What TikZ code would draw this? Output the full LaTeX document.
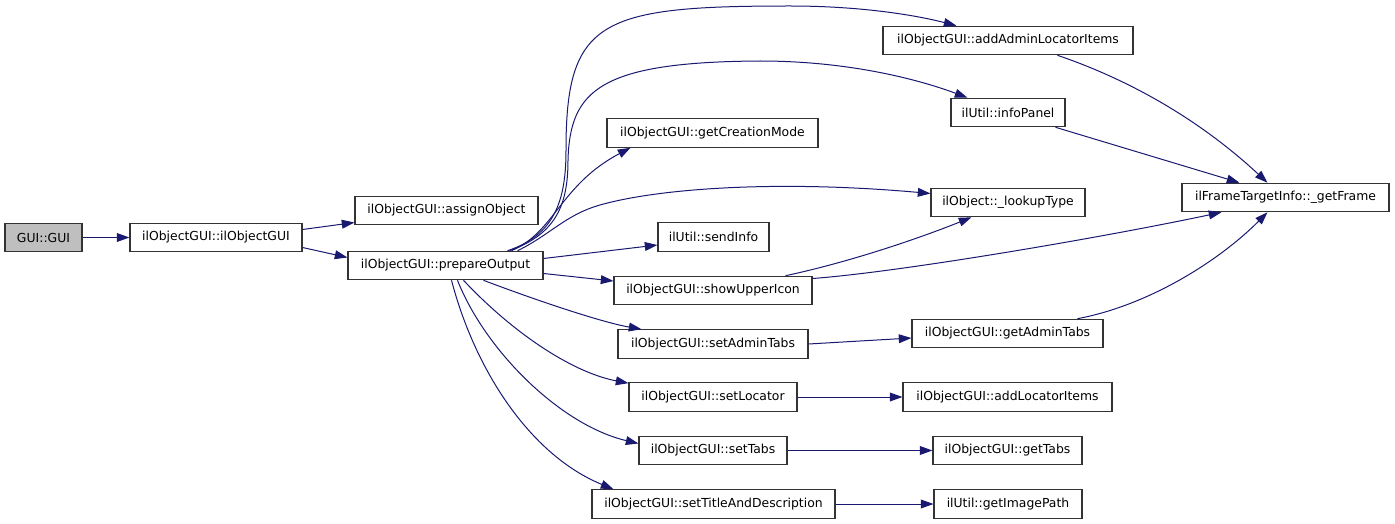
\documentclass[tikz,border=0pt]{standalone}
\usepackage{fontspec}
\setmainfont{DejaVu Sans}
\usetikzlibrary{arrows.meta,calc}
\definecolor{edgec}{HTML}{191970}
\definecolor{rootfill}{HTML}{BFBFBF}
\begin{document}
\begin{tikzpicture}[x=0.75pt,y=-0.75pt,
 box/.style={draw=black!80, line width=0.8pt, inner sep=0pt, minimum height=21.4pt,
   font=\fontsize{9.3pt}{11pt}\selectfont, text=black},
 edge/.style={draw=edgec, line width=0.75pt, -{Triangle[length=9.5pt,width=6.6pt]}}]
\useasboundingbox (0,0) rectangle (1395,524);
% nodes
\node[box, fill=rootfill, minimum width=57.75pt] (gui) at (43.5,237.5) {GUI::GUI};
\node[box, minimum width=129pt] (ilo) at (216,237.5) {ilObjectGUI::ilObjectGUI};
\node[box, minimum width=137.25pt] (assign) at (446.5,210.5) {ilObjectGUI::assignObject};
\node[box, minimum width=146.25pt] (po) at (445.5,265.5) {ilObjectGUI::prepareOutput};
\node[box, minimum width=187.5pt] (aali) at (1008,40.5) {ilObjectGUI::addAdminLocatorItems};
\node[box, minimum width=85.5pt] (info) at (1008,112.5) {ilUtil::infoPanel};
\node[box, minimum width=158.25pt] (gcm) at (712.5,133) {ilObjectGUI::getCreationMode};
\node[box, minimum width=115.5pt] (lookup) at (1008,202.5) {ilObject::\_lookupType};
\node[box, minimum width=155.25pt] (gf) at (1285.5,197.5) {ilFrameTargetInfo::\_getFrame};
\node[box, minimum width=83.25pt] (si) at (713.5,237) {ilUtil::sendInfo};
\node[box, minimum width=148.5pt] (sui) at (713,290.5) {ilObjectGUI::showUpperIcon};
\node[box, minimum width=142.5pt] (sat) at (713,344) {ilObjectGUI::setAdminTabs};
\node[box, minimum width=126pt] (sl) at (713,397) {ilObjectGUI::setLocator};
\node[box, minimum width=111pt] (st) at (713,450.5) {ilObjectGUI::setTabs};
\node[box, minimum width=182.25pt] (stad) at (713.5,504) {ilObjectGUI::setTitleAndDescription};
\node[box, minimum width=143.25pt] (gat) at (1007.5,333.5) {ilObjectGUI::getAdminTabs};
\node[box, minimum width=156.75pt] (ali) at (1007.5,397) {ilObjectGUI::addLocatorItems};
\node[box, minimum width=111.75pt] (gt) at (1007.5,450.5) {ilObjectGUI::getTabs};
\node[box, minimum width=111pt] (gip) at (1008,504) {ilUtil::getImagePath};
% edges
\draw[edge] (gui) -- (ilo);
\draw[edge] ($(ilo.east)+(0,-8)$) -- ($(assign.west)+(0,12)$);
\draw[edge] ($(ilo.east)+(0,10)$) -- ($(po.west)+(0,-8)$);
% prepareOutput top fan
\draw[edge] ($(po.north)+(62,0)$) .. controls (555,235) and (566,200) .. (566,150)
   .. controls (566,20) and (600,6) .. (790,6)
   .. controls (860,6) and (915,15) .. ($(aali.north west)+(74,0)$);
\draw[edge] ($(po.north)+(64,0)$) .. controls (556,234) and (568,205) .. (568,160)
   .. controls (570,90) and (600,62) .. (760,61)
   .. controls (850,61) and (920,80) .. ($(info.north west)+(17,0)$);
\draw[edge] ($(po.north)+(66,0)$) .. controls (555,232) and (560,185) .. ($(gcm.south west)+(24,0)$);
\draw[edge] ($(po.north)+(72,0)$) .. controls (550,235) and (565,215) .. (600,205)
   .. controls (660,188) and (780,180) .. ($(lookup.west)+(0,-9)$);
% prepareOutput right
\draw[edge] ($(po.east)+(0,-7)$) -- ($(si.west)+(0,8)$);
\draw[edge] ($(po.east)+(0,8)$) -- ($(sui.west)+(0,-9.5)$);
% prepareOutput bottom fan
\draw[edge] ($(po.south)+(38,0)$) .. controls (530,298) and (600,322) .. ($(sat.north west)+(24,0)$);
\draw[edge] ($(po.south)+(18,0)$) .. controls (510,330) and (570,372) .. ($(sl.north west)+(0,1)$);
\draw[edge] ($(po.south)+(12,0)$) .. controls (485,350) and (560,425) .. ($(st.west)+(0,-7)$);
\draw[edge] ($(po.south)+(6,0)$) .. controls (475,370) and (530,455) .. ($(stad.north west)+(22,0)$);
% column 2 -> column 3
\draw[edge] (sat.east) -- ($(gat.west)+(0,4.5)$);
\draw[edge] (sl) -- (ali);
\draw[edge] (st) -- (gt);
\draw[edge] (stad) -- (gip);
\draw[edge] ($(sui.north east)+(-27,0)$) .. controls (850,262) and (920,238) .. ($(lookup.south west)+(41,0)$);
\draw[edge] ($(sui.east)+(0,-12)$) .. controls (900,272) and (1100,238) .. ($(gf.south west)+(40,0)$);
% into _getFrame
\draw[edge] ($(aali.south west)+(175,0)$) .. controls (1130,80) and (1200,120) .. ($(gf.north west)+(86,0)$);
\draw[edge] ($(info.south east)+(-10,0)$) -- ($(gf.north west)+(58,0)$);
\draw[edge] ($(gat.north west)+(166,0)$) .. controls (1150,305) and (1220,260) .. ($(gf.south west)+(86,0)$);
\end{tikzpicture}
\end{document}
